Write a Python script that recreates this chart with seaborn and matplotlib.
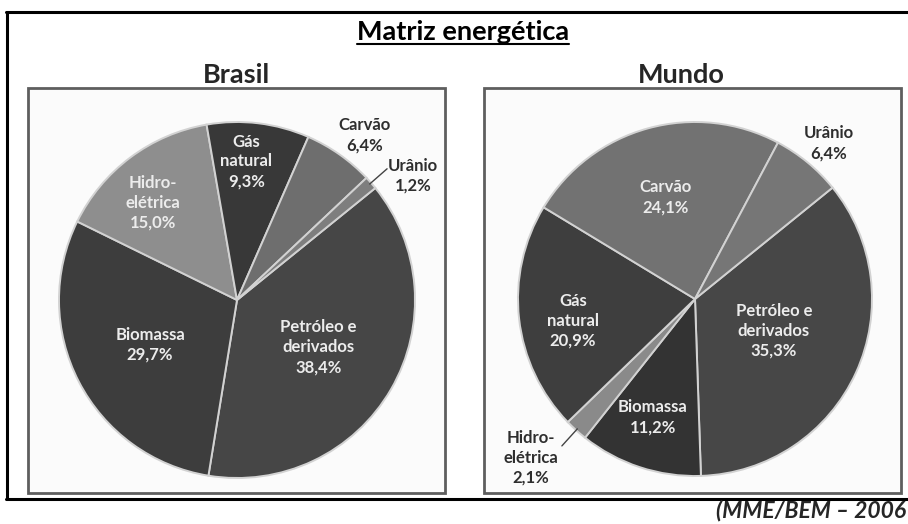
import numpy as np
import matplotlib
matplotlib.use("Agg")
import matplotlib.pyplot as plt
from matplotlib.patches import Rectangle
from matplotlib.lines import Line2D
import seaborn as sns

# data (percent of energy matrix, 2006)
categories = ["Petróleo e\nderivados", "Biomassa", "Hidro-\nelétrica", "Gás\nnatural", "Carvão", "Urânio"]
brasil_values = [38.4, 29.7, 15.0, 9.3, 6.4, 1.2]
mundo_values = [35.3, 11.2, 2.1, 20.9, 24.1, 6.4]
brasil_labels = ["38,4%", "29,7%", "15,0%", "9,3%", "6,4%", "1,2%"]
mundo_labels = ["35,3%", "11,2%", "2,1%", "20,9%", "24,1%", "6,4%"]

sns.set_theme(style="white")
plt.rcParams['font.family'] = ['Lato', 'DejaVu Sans']

W, H = 908, 524
fig = plt.figure(figsize=(W / 100, H / 100), dpi=100)
fig.patch.set_facecolor("white")


def fx(x):
    return x / W


def fy(y):
    return 1 - y / H


# outer frame (left, top, bottom lines only - right side is cropped)
fig.add_artist(Line2D([fx(7), fx(7)], [fy(12), fy(499)], color="black", lw=2.2))
fig.add_artist(Line2D([fx(6), fx(908)], [fy(12), fy(12)], color="black", lw=2.2))
fig.add_artist(Line2D([fx(6), fx(908)], [fy(499), fy(499)], color="black", lw=2.2))

# panel boxes (behind the pies)
for x0, x1 in [(28, 445), (484, 901)]:
    fig.add_artist(Rectangle((fx(x0), fy(493)), fx(x1 - x0), (493 - 88) / H,
                             facecolor="#fbfbfb", edgecolor="#5e5e5e", lw=2.0, zorder=-1))

# titles
title = fig.text(fx(463), fy(32), "Matriz energética", ha="center", va="center",
                 fontsize=19.5, fontweight="bold", color="black")
fig.text(fx(236), fy(75), "Brasil", ha="center", va="center", fontsize=19.5, fontweight="bold")
fig.text(fx(681), fy(75), "Mundo", ha="center", va="center", fontsize=19.5, fontweight="bold")
# source note: the reference is cropped just after "2006"
fig.text(fx(906), fy(511), "(MME/BEM – 2006", ha="right", va="center", fontsize=16.5,
         fontweight="bold", fontstyle="italic")

fig.canvas.draw()
bb = title.get_window_extent(fig.canvas.get_renderer())
fig.add_artist(Line2D([bb.x0 / W, bb.x1 / W], [fy(44), fy(44)], color="black", lw=1.5))

brasil_colors = ["#464646", "#3d3d3d", "#8e8e8e", "#383838", "#6e6e6e", "#7e7e7e"]
mundo_colors = ["#474747", "#333333", "#8a8a8a", "#3e3e3e", "#727272", "#767676"]

# label placement: radius factor and clockwise angle shift per wedge
brasil_lr = [0.53, 0.55, 0.72, 0.78, 1.17, 1.21]
brasil_shift = [0, 0, -4, -3, 2.5, 6]
brasil_out = [False, False, False, False, True, True]
brasil_leader = [False, False, False, False, False, True]
mundo_lr = [0.48, 0.71, 1.29, 0.70, 0.60, 1.16]
mundo_shift = [-2.5, 1.4, 3.7, -3.6, -0.9, 1.2]
mundo_out = [False, False, True, False, False, True]
mundo_leader = [False, False, True, False, False, False]


def draw_pie(cx, cy, r, values, pct, colors, lr, shift, out, leader):
    ax = fig.add_axes([fx(cx - r), fy(cy + r), 2 * r / W, 2 * r / H])
    ax.set_zorder(2)
    ax.patch.set_alpha(0)
    wedges, _ = ax.pie(values, colors=colors, startangle=39, counterclock=False,
                       radius=1, wedgeprops=dict(edgecolor="#d2d2d2", linewidth=1.4))
    ax.set_xlim(-1, 1)
    ax.set_ylim(-1, 1)
    ax.axis("off")
    for i, w in enumerate(wedges):
        mid = (w.theta1 + w.theta2) / 2
        ang = np.deg2rad(mid - shift[i])
        txt = categories[i] + "\n" + pct[i]
        col = "#2e2e2e" if out[i] else "#ececec"
        ax.text(lr[i] * np.cos(ang), lr[i] * np.sin(ang), txt, ha="center", va="center",
                fontsize=12, fontweight="bold", color=col, linespacing=1.3, clip_on=False)
        if leader[i]:
            m = np.deg2rad(mid)
            ax.plot([0.99 * np.cos(m), 1.12 * np.cos(m)], [0.99 * np.sin(m), 1.12 * np.sin(m)],
                    color="#444444", lw=1.0, clip_on=False)
    return ax


draw_pie(237, 300, 178, brasil_values, brasil_labels, brasil_colors,
         brasil_lr, brasil_shift, brasil_out, brasil_leader)
draw_pie(695, 299, 177, mundo_values, mundo_labels, mundo_colors,
         mundo_lr, mundo_shift, mundo_out, mundo_leader)

fig.savefig("out.png", dpi=100)
